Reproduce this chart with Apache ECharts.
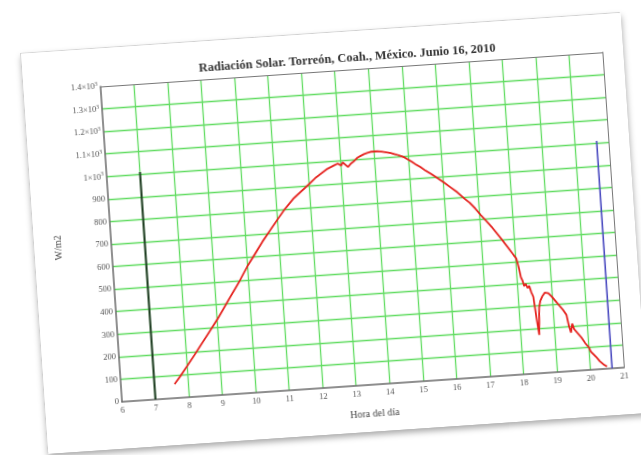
<!DOCTYPE html>
<html>
<head>
<meta charset="utf-8">
<script src="https://cdn.jsdelivr.net/npm/echarts@6/dist/echarts.min.js"></script>
<style>
  html, body { margin: 0; padding: 0; background: #ffffff; width: 641px; height: 455px; overflow: hidden; }
  #paper {
    position: absolute; left: 32.5px; top: 31.5px; width: 601px; height: 401px;
    background: #fff; border: 1px solid #d0d0d0; box-sizing: border-box;
    box-shadow: 1px 4px 6px rgba(0,0,0,0.35);
    transform: rotate(-3.9deg); transform-origin: 50% 50%;
  }
  #chart { width: 601px; height: 401px; }
</style>
</head>
<body>
<div id="paper"><div id="chart"></div></div>
<script>
// ---- data ----
const titleText = 'Radiación Solar. Torreón, Coah., México. Junio 16, 2010';
const xAxisName = 'Hora del día';
const yAxisName = 'W/m2';
const xTicks = [6, 7, 8, 9, 10, 11, 12, 13, 14, 15, 16, 17, 18, 19, 20, 21];
const yTicks = [0, 100, 200, 300, 400, 500, 600, 700, 800, 900, 1000, 1100, 1200, 1300, 1400];

const hours = [7.6, 7.8, 8.0, 8.25, 8.5, 8.75, 9.0, 9.25, 9.5, 9.75,
  10.0, 10.25, 10.5, 10.75, 11.0, 11.25, 11.5, 11.75, 12.0, 12.2,
  12.4, 12.55, 12.7, 12.8, 12.9, 13.0, 13.05, 13.1, 13.2, 13.3,
  13.4, 13.5, 13.6, 13.7, 13.8, 13.9, 14.0, 14.1, 14.2, 14.3,
  14.4, 14.5, 14.6, 14.7, 14.8, 14.9, 15.0, 15.1, 15.2, 15.35,
  15.5, 15.65, 15.8, 16.0, 16.2, 16.4, 16.6, 16.75, 16.9, 17.05,
  17.2, 17.35, 17.5, 17.65, 17.8, 17.95, 18.02, 18.08, 18.12, 18.16,
  18.2, 18.25, 18.3, 18.35, 18.4, 18.45, 18.5, 18.55, 18.6, 18.65,
  18.72, 18.8, 18.9, 19.0, 19.1, 19.2, 19.3, 19.4, 19.45, 19.5,
  19.55, 19.6, 19.7, 19.8, 19.9, 20.0, 20.05, 20.1, 20.2, 20.3,
  20.4, 20.5];
const radiation = [62, 98, 136, 185, 235, 285, 335, 390, 445, 500,
  560, 612, 665, 712, 760, 805, 845, 875, 905, 930,
  950, 965, 975, 982, 988, 978, 992, 998, 970, 985,
  995, 1008, 1015, 1022, 1026, 1030, 1031, 1030, 1028, 1025,
  1022, 1018, 1013, 1008, 1002, 995, 985, 975, 963, 948,
  930, 915, 898, 875, 850, 825, 795, 775, 748, 718,
  690, 662, 630, 598, 565, 530, 515, 470, 430, 415,
  390, 400, 380, 390, 360, 340, 250, 170, 290, 320,
  340, 355, 352, 335, 315, 295, 275, 250, 200, 170,
  210, 185, 165, 145, 120, 100, 80, 85, 55, 35,
  20, 10];

// vertical reference lines (sunrise / sunset markers)
const sunriseX = [7, 7];
const sunriseY = [0, 1010];
const sunsetX = [20.65, 20.65];
const sunsetY = [0, 1010];

// ---- chart ----
const zip = (xs, ys) => xs.map((x, i) => [x, ys[i]]);
const chart = echarts.init(document.getElementById('chart'), null, { renderer: 'canvas' });
const serif = '"Liberation Serif", "DejaVu Serif", serif';

function yLabel(v) {
  if (v >= 1000) {
    const m = v / 1000;
    const s = (m === 1) ? '1' : m.toFixed(1);
    return '{b|' + s + '×10}{s|3}';
  }
  return '{b|' + v + '}';
}

const xMin = xTicks[0], xMax = xTicks[xTicks.length - 1];
const yMin = yTicks[0], yMax = yTicks[yTicks.length - 1];
const frameAxis = { show: true, onZero: false, lineStyle: { color: '#777', width: 1 } };
const gridSplit = { show: true, showMinLine: false, showMaxLine: false, lineStyle: { color: '#62dc62', width: 1.3 } };

chart.setOption({
  animation: false,
  backgroundColor: '#ffffff',
  title: {
    text: titleText, left: 320, top: 16, textAlign: 'center',
    textStyle: { fontFamily: serif, fontSize: 12.4, fontWeight: 'bold', color: '#333' }
  },
  grid: { left: 77, top: 38, width: 503, height: 316, show: false },
  xAxis: [{
    type: 'value', min: xMin, max: xMax, interval: 1, z: 1,
    name: xAxisName, nameLocation: 'middle', nameGap: 24,
    nameTextStyle: { fontFamily: serif, fontSize: 10, color: '#444' },
    axisLine: { show: true, onZero: false, lineStyle: { color: '#6a6a6a', width: 1.5 } },
    axisTick: { show: false },
    axisLabel: { fontFamily: serif, fontSize: 8.5, color: '#555', margin: 4 },
    splitLine: gridSplit
  }, {
    type: 'value', min: xMin, max: xMax, interval: 1, position: 'top', z: 5,
    axisLine: frameAxis, axisTick: { show: false }, axisLabel: { show: false }, splitLine: { show: false }
  }],
  yAxis: [{
    type: 'value', min: yMin, max: yMax, interval: 100, z: 1,
    name: yAxisName, nameLocation: 'middle', nameGap: 48, nameRotate: 90,
    nameTextStyle: { fontFamily: serif, fontSize: 10, color: '#444' },
    axisLine: { show: true, onZero: false, lineStyle: { color: '#6a6a6a', width: 1.5 } },
    axisTick: { show: false },
    axisLabel: {
      margin: 3, formatter: yLabel,
      rich: {
        b: { fontFamily: serif, fontSize: 8.5, color: '#555' },
        s: { fontFamily: serif, fontSize: 5.5, color: '#555', verticalAlign: 'top', padding: [0, 0, 5, 0] }
      }
    },
    splitLine: gridSplit
  }, {
    type: 'value', min: yMin, max: yMax, interval: 100, position: 'right', z: 5,
    axisLine: frameAxis, axisTick: { show: false }, axisLabel: { show: false }, splitLine: { show: false }
  }],
  series: [
    { type: 'line', data: zip(sunriseX, sunriseY), symbol: 'none', lineStyle: { color: '#1f3a22', width: 2 }, z: 3 },
    { type: 'line', data: zip(sunsetX, sunsetY), symbol: 'none', lineStyle: { color: '#4a4ac0', width: 1.6 }, z: 3 },
    { type: 'line', data: zip(hours, radiation), symbol: 'none', lineStyle: { color: '#e52420', width: 1.8 }, z: 4 }
  ]
});
</script>
</body>
</html>
